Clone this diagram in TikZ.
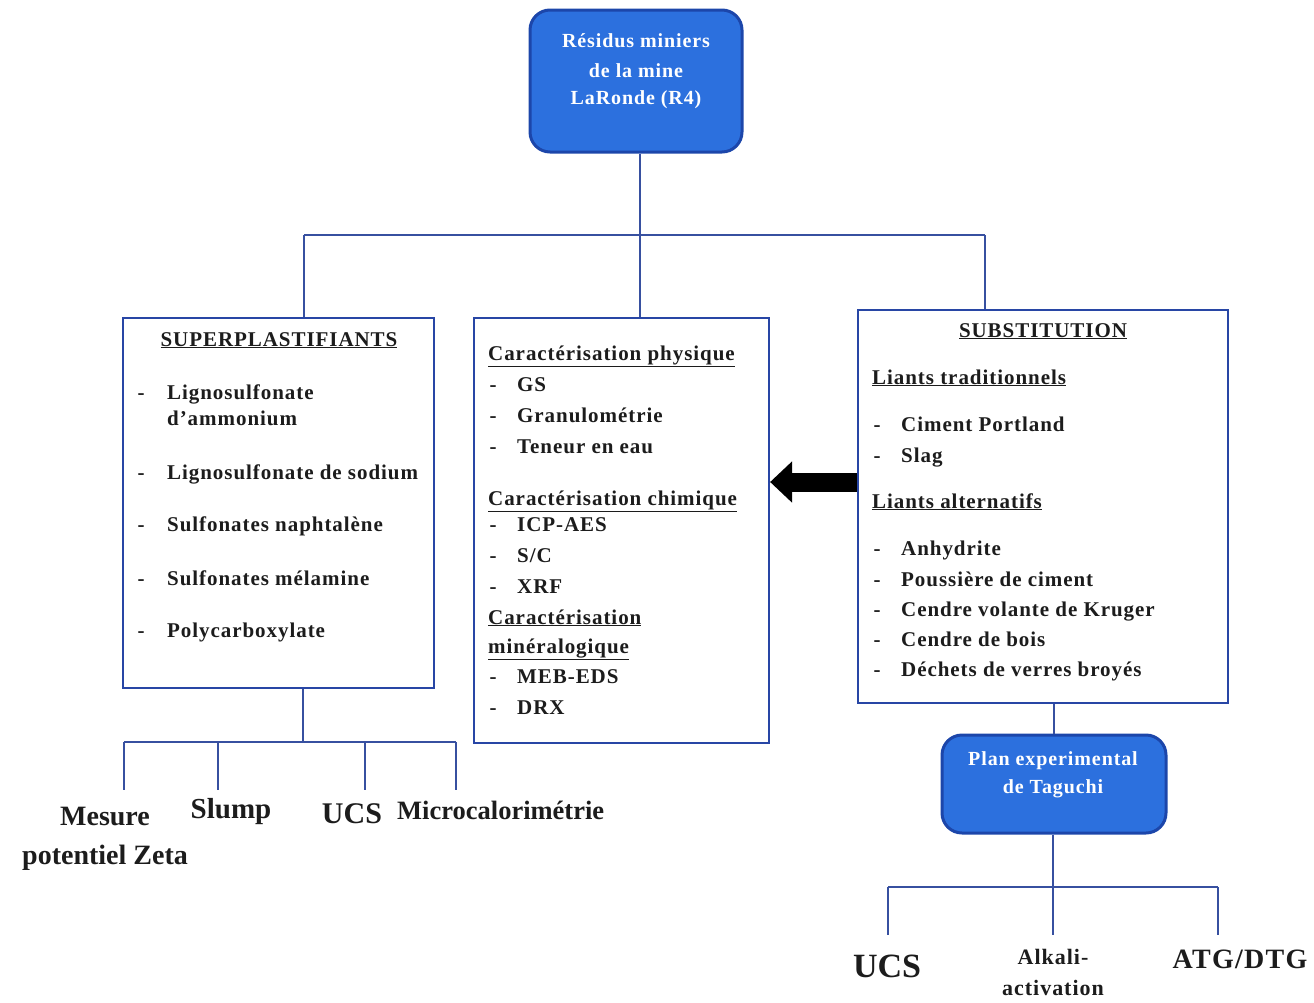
\documentclass[tikz,border=0pt]{standalone}
\usepackage{fontspec}
\setmainfont{Liberation Serif}[LetterSpace=4.5]
\newfontfamily\plainfont{Liberation Serif}
\usetikzlibrary{arrows.meta}
\definecolor{boxblue}{RGB}{44,112,222}
\definecolor{boxedge}{RGB}{28,70,170}
\definecolor{frameblue}{RGB}{40,70,165}
\definecolor{linkblue}{RGB}{55,80,160}
\definecolor{ink}{RGB}{28,28,28}
\tikzset{
  rbox/.style={draw=boxedge, line width=3pt, fill=boxblue, rounded corners=20pt, inner sep=0pt},
  frame/.style={draw=frameblue, line width=2.2pt, fill=white, inner sep=0pt},
  conn/.style={draw=linkblue, line width=1.4pt},
  wtxt/.style={text=white, font=\bfseries\fontsize{20}{24}\selectfont, align=center, inner sep=0pt},
  itm/.style={text=ink, font=\bfseries\fontsize{21}{25}\selectfont, anchor=base west, inner sep=0pt},
  hdr/.style={text=ink, font=\bfseries\fontsize{21}{25}\selectfont, anchor=base, inner sep=0pt},
  dsh/.style={text=ink, font=\bfseries\fontsize{21}{25}\selectfont, anchor=base, inner sep=0pt},
  lbl/.style={text=ink, anchor=base, inner sep=0pt},
  bigarrow/.style={draw=black, line width=19pt, -{Triangle[length=22pt,width=40pt]}}
}
\begin{document}
\begin{tikzpicture}[x=1pt,y=-1pt]
\useasboundingbox (0,0) rectangle (1314,1002);
% boxes
\node[rbox, minimum width=212pt, minimum height=142pt] (top) at (636,81) {};
\node[frame, minimum width=311pt, minimum height=370pt] (sup) at (278.5,503) {};
\node[frame, minimum width=295pt, minimum height=425pt] (car) at (621.5,530.5) {};
\node[frame, minimum width=370pt, minimum height=393pt] (sub) at (1043,506.5) {};
\node[rbox, minimum width=224pt, minimum height=98pt] (tag) at (1054,784) {};
% top box text
\node[wtxt] (t1) at (636,41) {Résidus miniers};
\node[wtxt] (t2) at (636,71) {de la mine};
\node[wtxt] (t3) at (636,100) {LaRonde (R4)};
% junctions
\coordinate (jt) at (640,235);
\coordinate (jl) at (304,235);
\coordinate (jr) at (985,235);
\draw[conn] (top.south -| jt) -- (car.north -| jt);
\draw[conn] (jl) -- (jr);
\draw[conn] (jl) -- (sup.north -| jl);
\draw[conn] (jr) -- (sub.north -| jr);
% left box text
\node[hdr] (supt) at (279,346) {\underline{SUPERPLASTIFIANTS}};
\foreach \n/\y in {a/399,b/479,c/531,d/585,e/637}{\node[dsh] (sd\n) at (141,\y) {-};}
\node[itm] (s1) at (167,399) {Lignosulfonate};
\node[itm] (s1b) at (167,425) {d’ammonium};
\node[itm] (s2) at (167,479) {Lignosulfonate de sodium};
\node[itm] (s3) at (167,531) {Sulfonates naphtalène};
\node[itm] (s4) at (167,585) {Sulfonates mélamine};
\node[itm] (s5) at (167,637) {Polycarboxylate};
% middle box text
\node[itm] (c1) at (488,360) {\underline{Caractérisation physique}};
\node[itm] (c2) at (488,505) {\underline{Caractérisation chimique}};
\node[itm] (c3) at (488,624) {\underline{Caractérisation}};
\node[itm] (c3b) at (488,653) {\underline{minéralogique}};
\foreach \n/\y in {a/391,b/422,c/453,d/531,e/562,f/593,g/683,h/714}{\node[dsh] (cd\n) at (493,\y) {-};}
\node[itm] (m1) at (517,391) {GS};
\node[itm] (m2) at (517,422) {Granulométrie};
\node[itm] (m3) at (517,453) {Teneur en eau};
\node[itm] (m4) at (517,531) {ICP-AES};
\node[itm] (m5) at (517,562) {S/C};
\node[itm] (m6) at (517,593) {XRF};
\node[itm] (m7) at (517,683) {MEB-EDS};
\node[itm] (m8) at (517,714) {DRX};
% right box text
\node[hdr] (subt) at (1043,337) {\underline{SUBSTITUTION}};
\node[itm] (r1) at (872,384) {\underline{Liants traditionnels}};
\node[itm] (r2) at (872,508) {\underline{Liants alternatifs}};
\foreach \n/\y in {a/431,b/462,c/555,d/586,e/616,f/646,g/676}{\node[dsh] (rd\n) at (877,\y) {-};}
\node[itm] (p1) at (901,431) {Ciment Portland};
\node[itm] (p2) at (901,462) {Slag};
\node[itm] (p3) at (901,555) {Anhydrite};
\node[itm] (p4) at (901,586) {Poussière de ciment};
\node[itm] (p5) at (901,616) {Cendre volante de Kruger};
\node[itm] (p6) at (901,646) {Cendre de bois};
\node[itm] (p7) at (901,676) {Déchets de verres broyés};
% arrow
\draw[bigarrow] (sub.west |- 0,482) -- (car.east |- 0,482);
% left bottom tree
\coordinate (lb) at (303,742);
\coordinate (lb1) at (124,742);
\coordinate (lb4) at (456,742);
\coordinate (le1) at (124,790);
\coordinate (le2) at (218,790);
\coordinate (le3) at (365,790);
\coordinate (le4) at (456,790);
\draw[conn] (sup.south -| lb) -- (lb);
\draw[conn] (lb1) -- (lb4);
\draw[conn] (lb1) -- (le1);
\draw[conn] (le2 |- lb) -- (le2);
\draw[conn] (le3 |- lb) -- (le3);
\draw[conn] (lb4) -- (le4);
\node[lbl, font=\plainfont\bfseries\fontsize{28}{32}\selectfont] (b1) at (105,825) {Mesure};
\node[lbl, font=\plainfont\bfseries\fontsize{28}{32}\selectfont] (b1b) at (105,864) {potentiel Zeta};
\node[lbl, font=\plainfont\bfseries\fontsize{29}{32}\selectfont] (b2) at (231,818) {Slump};
\node[lbl, font=\plainfont\bfseries\fontsize{30}{32}\selectfont] (b3) at (352,823) {UCS};
\node[lbl, font=\plainfont\bfseries\fontsize{26.5}{30}\selectfont, anchor=base west] (b4) at (397,819) {Microcalorimétrie};
% right bottom tree
\draw[conn] (sub.south -| tag.north) -- (tag.north);
\node[wtxt] (g1) at (1053,761) {Plan experimental};
\node[wtxt] (g2) at (1053,789) {de Taguchi};
\coordinate (rb1) at (888,887);
\coordinate (rb2) at (1053,887);
\coordinate (rb3) at (1218,887);
\coordinate (re1) at (888,935);
\coordinate (re2) at (1053,935);
\coordinate (re3) at (1218,935);
\draw[conn] (tag.south -| rb2) -- (re2);
\draw[conn] (rb1) -- (rb3);
\draw[conn] (rb1) -- (re1);
\draw[conn] (rb3) -- (re3);
\node[lbl, font=\plainfont\bfseries\fontsize{34}{38}\selectfont] (u1) at (887,977) {UCS};
\node[lbl, font=\bfseries\fontsize{22}{26}\selectfont] (u2) at (1053,964) {Alkali-};
\node[lbl, font=\bfseries\fontsize{22}{26}\selectfont] (u2b) at (1053,995) {activation};
\node[lbl, font=\bfseries\fontsize{28}{32}\selectfont] (u3) at (1240,968) {ATG/DTG};
\end{tikzpicture}
\end{document}
